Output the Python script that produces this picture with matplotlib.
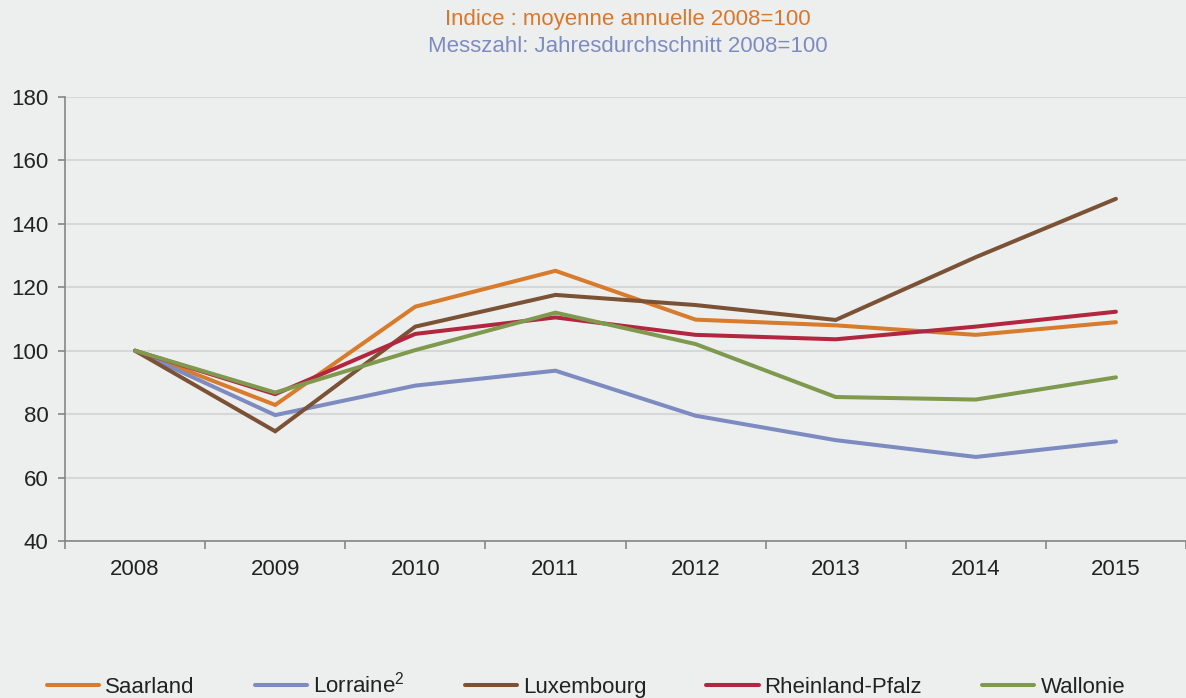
import matplotlib
matplotlib.use("Agg")
import matplotlib.pyplot as plt
import numpy as np

years = ["2008", "2009", "2010", "2011", "2012", "2013", "2014", "2015"]
saarland = [100, 82.9, 113.9, 125.2, 109.8, 108.0, 105.0, 109.0]
lorraine = [100, 79.7, 89.0, 93.7, 79.5, 71.8, 66.5, 71.4]
luxembourg = [100, 74.6, 107.6, 117.6, 114.4, 109.7, 129.5, 147.9]
rheinland = [100, 86.3, 105.3, 110.5, 105.0, 103.6, 107.6, 112.3]
wallonie = [100, 86.8, 100.2, 112.0, 102.1, 85.4, 84.6, 91.6]

series = [
    ("Saarland", saarland, "#D97B2C"),
    ("Lorraine$^{2}$", lorraine, "#7E8BC1"),
    ("Luxembourg", luxembourg, "#7B5235"),
    ("Rheinland-Pfalz", rheinland, "#B3263F"),
    ("Wallonie", wallonie, "#7F9A4F"),
]

plt.rcParams['font.family'] = ['Liberation Sans', 'DejaVu Sans']
plt.rcParams['mathtext.default'] = 'regular'

bg = "#EDEFEE"
txt = "#222222"
fs = 16
fig = plt.figure(figsize=(11.86, 6.98), dpi=100, facecolor=bg)
ax = fig.add_axes([65/1186, 1-541/698, 1121/1186, 444/698])
ax.set_facecolor(bg)

x = np.arange(len(years))
for name, vals, col in series:
    ax.plot(x, vals, color=col, lw=2.9, label=name, solid_capstyle='round', solid_joinstyle='miter')

ax.set_xlim(-0.5, len(years) - 0.5)
ax.set_ylim(40, 180)
ax.set_yticks(np.arange(40, 181, 20))
ax.tick_params(axis='y', labelsize=fs, length=5, color='#868686', width=1.2, pad=7, labelcolor=txt)
ax.set_xticks(np.arange(-0.5, len(years), 1.0))
ax.set_xticklabels([])
ax.set_xticks(x, minor=True)
ax.set_xticklabels(years, minor=True)
ax.tick_params(axis='x', which='major', length=6, color='#868686', width=1.2)
ax.tick_params(axis='x', which='minor', length=0, labelsize=fs, pad=13, labelcolor=txt)

ax.grid(axis='y', color='#D6D8D7', lw=1.5)
ax.set_axisbelow(True)
for s in ['top', 'right']:
    ax.spines[s].set_visible(False)
for s in ['left', 'bottom']:
    ax.spines[s].set_color('#868686')
    ax.spines[s].set_linewidth(1.2)

fig.text(628/1186, 1-20/698, "Indice : moyenne annuelle 2008=100", color="#D9782D",
         fontsize=fs, ha='center', va='center')
fig.text(628/1186, 1-46/698, "Messzahl: Jahresdurchschnitt 2008=100", color="#7E8BC1",
         fontsize=fs, ha='center', va='center')

leg = fig.legend(loc='center', bbox_to_anchor=(586/1186, 1-685/698), ncol=5,
                 frameon=False, fontsize=fs, handlelength=2.35, handletextpad=0.27,
                 columnspacing=2.7)
for t in leg.get_texts():
    t.set_color(txt)

fig.savefig("out.png", dpi=100, facecolor=bg)
